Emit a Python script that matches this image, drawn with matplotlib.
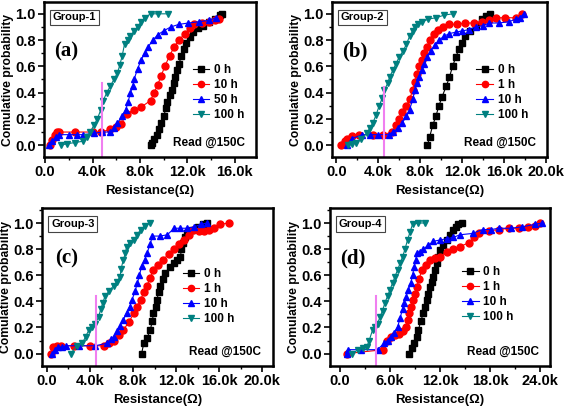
import numpy as np
import matplotlib.pyplot as plt
from matplotlib.ticker import MultipleLocator

plt.rcParams['font.family'] = ['Liberation Sans', 'DejaVu Sans']
plt.rcParams['font.weight'] = 'bold'

# ---- data (resistance in kOhm, cumulative probability) ----
# Group-1
a0_x = [8.9, 9.0, 9.2, 9.4, 9.6, 9.8, 10.0, 10.2, 10.3, 10.5, 10.7, 10.9, 11.0, 11.1, 11.3, 11.5, 11.7, 11.9, 12.2, 12.5, 12.9, 13.3, 13.8, 14.3, 14.8, 14.9]
a0_y = [0.0, 0.02, 0.05, 0.08, 0.12, 0.17, 0.22, 0.28, 0.33, 0.38, 0.42, 0.47, 0.52, 0.57, 0.62, 0.68, 0.73, 0.78, 0.82, 0.86, 0.89, 0.91, 0.94, 0.96, 0.99, 1.0]
a1_x = [0.4, 0.6, 0.8, 1.0, 1.2, 2.5, 4.0, 4.7, 5.5, 6.0, 6.4, 6.9, 7.5, 8.1, 8.9, 9.2, 9.5, 9.8, 10.1, 10.5, 10.9, 11.3, 11.8, 12.2, 12.6, 13.2, 13.8, 14.3, 14.7]
a1_y = [0.0, 0.04, 0.08, 0.1, 0.1, 0.1, 0.1, 0.1, 0.12, 0.14, 0.16, 0.24, 0.27, 0.29, 0.34, 0.40, 0.46, 0.53, 0.60, 0.68, 0.75, 0.80, 0.85, 0.89, 0.92, 0.93, 0.94, 0.95, 0.96]
a2_x = [0.3, 0.6, 0.9, 1.2, 2.0, 2.7, 3.2, 4.1, 4.8, 5.5, 5.8, 6.1, 6.5, 6.8, 7.0, 7.2, 7.4, 7.5, 7.8, 8.1, 8.4, 8.7, 9.1, 9.5, 10.0, 10.6, 11.3, 12.1, 13.0, 13.8, 14.4]
a2_y = [0.0, 0.03, 0.06, 0.08, 0.08, 0.08, 0.08, 0.09, 0.1, 0.1, 0.13, 0.17, 0.22, 0.27, 0.33, 0.40, 0.45, 0.50, 0.58, 0.65, 0.70, 0.75, 0.80, 0.84, 0.87, 0.90, 0.92, 0.93, 0.94, 0.95, 0.97]
a3_x = [1.3, 1.8, 2.5, 3.2, 3.5, 3.8, 4.1, 4.4, 4.7, 4.9, 5.2, 5.5, 5.8, 6.1, 6.3, 6.5, 6.7, 7.0, 7.2, 7.5, 7.8, 8.1, 8.4, 8.9, 9.5, 10.4]
a3_y = [0.0, 0.01, 0.02, 0.03, 0.06, 0.1, 0.15, 0.2, 0.27, 0.34, 0.40, 0.45, 0.50, 0.55, 0.61, 0.68, 0.77, 0.80, 0.83, 0.87, 0.90, 0.94, 0.97, 1.0, 1.0, 1.0]

# Group-2
b0_x = [8.7, 8.9, 9.2, 9.5, 9.8, 10.1, 10.5, 10.8, 11.1, 11.4, 11.7, 12.0, 12.3, 12.8, 13.3, 13.9, 14.3, 14.7]
b0_y = [0.0, 0.06, 0.15, 0.22, 0.30, 0.37, 0.45, 0.52, 0.60, 0.67, 0.73, 0.78, 0.83, 0.87, 0.91, 0.96, 0.98, 1.0]
b1_x = [0.5, 0.8, 1.0, 1.5, 2.2, 3.5, 4.5, 5.3, 5.7, 6.0, 6.3, 6.7, 7.0, 7.3, 7.5, 7.7, 7.9, 8.2, 8.4, 8.7, 8.9, 9.3, 9.7, 10.2, 10.8, 11.5, 12.3, 13.1, 13.9, 14.6, 15.2, 16.1, 17.1, 17.7]
b1_y = [0.0, 0.03, 0.05, 0.07, 0.08, 0.08, 0.08, 0.1, 0.15, 0.2, 0.25, 0.3, 0.35, 0.42, 0.48, 0.54, 0.6, 0.65, 0.7, 0.75, 0.8, 0.85, 0.88, 0.9, 0.92, 0.92, 0.93, 0.93, 0.94, 0.95, 0.97, 0.97, 0.97, 1.0]
b2_x = [1.0, 1.5, 2.5, 3.2, 4.0, 5.0, 5.4, 5.9, 6.3, 6.7, 7.0, 7.3, 7.5, 7.7, 7.9, 8.2, 8.4, 8.7, 9.0, 9.4, 9.8, 10.3, 10.8, 11.4, 12.0, 12.7, 13.3, 14.0, 14.6, 15.5, 16.5, 17.1, 17.5, 17.9]
b2_y = [0.0, 0.05, 0.08, 0.08, 0.08, 0.08, 0.1, 0.13, 0.17, 0.22, 0.27, 0.35, 0.42, 0.47, 0.52, 0.57, 0.62, 0.67, 0.72, 0.76, 0.8, 0.83, 0.85, 0.86, 0.87, 0.88, 0.9, 0.91, 0.93, 0.93, 0.94, 0.96, 0.97, 1.0]
b3_x = [1.1, 1.5, 1.9, 2.4, 2.9, 3.2, 3.5, 3.8, 4.1, 4.4, 4.6, 4.9, 5.1, 5.4, 5.7, 6.0, 6.4, 6.7, 7.0, 7.3, 7.5, 7.8, 8.2, 8.8, 9.5, 10.3, 11.1]
b3_y = [0.0, 0.01, 0.02, 0.05, 0.09, 0.13, 0.17, 0.23, 0.3, 0.36, 0.42, 0.47, 0.52, 0.57, 0.62, 0.67, 0.72, 0.77, 0.83, 0.87, 0.9, 0.92, 0.94, 0.96, 0.97, 0.99, 1.0]

# Group-3
c0_x = [8.8, 9.0, 9.3, 9.6, 9.8, 9.9, 10.1, 10.2, 10.4, 10.5, 10.8, 11.0, 11.4, 11.8, 12.1, 12.4, 12.5, 12.6, 12.8, 13.0, 13.5, 14.0, 14.5, 14.9]
c0_y = [0.0, 0.08, 0.12, 0.18, 0.25, 0.31, 0.36, 0.41, 0.47, 0.52, 0.57, 0.62, 0.66, 0.69, 0.72, 0.74, 0.8, 0.85, 0.89, 0.92, 0.95, 0.97, 0.99, 1.0]
c1_x = [0.4, 0.6, 0.9, 1.3, 2.5, 4.0, 5.3, 5.8, 6.2, 6.7, 7.1, 7.6, 8.1, 8.4, 8.7, 9.0, 9.3, 9.6, 9.9, 10.3, 10.8, 11.3, 11.8, 12.3, 12.7, 13.2, 13.6, 14.1, 14.6, 15.1, 15.5, 16.1, 16.9]
c1_y = [0.0, 0.05, 0.06, 0.06, 0.06, 0.06, 0.06, 0.08, 0.1, 0.14, 0.18, 0.24, 0.31, 0.36, 0.41, 0.47, 0.52, 0.58, 0.64, 0.68, 0.72, 0.76, 0.8, 0.84, 0.87, 0.91, 0.95, 0.94, 0.94, 0.95, 0.96, 0.99, 1.0]
c2_x = [0.5, 0.8, 1.0, 1.4, 1.8, 3.0, 4.5, 5.6, 6.0, 6.2, 6.5, 6.8, 7.1, 7.4, 7.7, 7.9, 8.2, 8.4, 8.6, 8.8, 9.1, 9.3, 9.6, 9.8, 10.5, 11.2, 11.8, 12.4, 13.0, 13.7, 14.3, 14.9]
c2_y = [0.0, 0.03, 0.05, 0.05, 0.06, 0.06, 0.06, 0.08, 0.11, 0.13, 0.17, 0.21, 0.26, 0.31, 0.36, 0.41, 0.48, 0.54, 0.6, 0.67, 0.72, 0.77, 0.84, 0.9, 0.9, 0.91, 0.96, 0.96, 0.96, 0.97, 0.99, 1.0]
c3_x = [2.2, 2.8, 3.3, 3.6, 3.9, 4.2, 4.5, 4.8, 5.0, 5.2, 5.4, 5.8, 6.2, 6.5, 6.8, 6.9, 7.1, 7.3, 7.4, 7.7, 8.1, 8.4, 8.7, 9.1, 9.6]
c3_y = [0.0, 0.06, 0.08, 0.13, 0.18, 0.2, 0.23, 0.28, 0.34, 0.39, 0.44, 0.48, 0.52, 0.55, 0.59, 0.65, 0.72, 0.77, 0.82, 0.85, 0.87, 0.91, 0.95, 0.98, 1.0]

# Group-4
d0_x = [8.3, 8.6, 8.9, 9.2, 9.4, 9.7, 10.0, 10.2, 10.4, 10.6, 10.8, 11.0, 11.2, 11.4, 11.6, 11.8, 12.0, 12.4, 12.8, 13.2, 13.6, 13.9, 14.2, 14.6]
d0_y = [0.0, 0.04, 0.08, 0.13, 0.18, 0.25, 0.31, 0.36, 0.41, 0.46, 0.51, 0.55, 0.59, 0.64, 0.69, 0.74, 0.79, 0.83, 0.87, 0.91, 0.95, 0.97, 0.99, 1.0]
d1_x = [0.8, 5.2, 5.6, 6.1, 6.6, 7.1, 7.5, 7.9, 8.1, 8.3, 8.5, 8.7, 9.0, 9.2, 9.5, 9.8, 10.3, 10.8, 11.4, 12.0, 12.8, 13.6, 14.4, 15.5, 16.1, 16.7, 17.9, 19.1, 20.3, 21.5, 22.6, 23.4, 24.0]
d1_y = [0.0, 0.03, 0.1, 0.13, 0.14, 0.15, 0.17, 0.2, 0.26, 0.31, 0.36, 0.41, 0.46, 0.51, 0.57, 0.64, 0.68, 0.72, 0.73, 0.74, 0.78, 0.8, 0.82, 0.85, 0.89, 0.92, 0.94, 0.95, 0.96, 0.96, 0.97, 0.98, 1.0]
d2_x = [0.8, 0.9, 2.5, 4.5, 5.3, 5.7, 6.1, 6.5, 6.9, 7.2, 7.5, 7.7, 7.9, 8.2, 8.5, 8.7, 8.9, 9.1, 9.2, 9.6, 10.0, 10.6, 11.2, 12.0, 12.8, 13.6, 14.4, 15.9, 17.1, 18.1, 19.1, 20.5, 21.8, 23.4, 24.2]
d2_y = [0.0, 0.03, 0.03, 0.03, 0.08, 0.1, 0.13, 0.16, 0.2, 0.27, 0.34, 0.39, 0.43, 0.49, 0.54, 0.6, 0.66, 0.72, 0.77, 0.78, 0.8, 0.83, 0.86, 0.87, 0.88, 0.89, 0.91, 0.92, 0.95, 0.95, 0.96, 0.96, 0.97, 0.99, 1.0]
d3_x = [1.4, 2.2, 2.8, 3.2, 3.5, 3.9, 4.2, 4.5, 4.8, 5.1, 5.4, 5.7, 6.0, 6.3, 6.6, 6.9, 7.2, 7.5, 7.8, 8.1, 8.4, 8.7, 9.4, 10.2]
d3_y = [0.0, 0.03, 0.04, 0.05, 0.1, 0.18, 0.2, 0.23, 0.28, 0.33, 0.39, 0.44, 0.49, 0.54, 0.59, 0.64, 0.69, 0.74, 0.8, 0.87, 0.93, 0.99, 1.0, 1.0]

labels_a = ['0 h', '10 h', '50 h', '100 h']
labels_b = ['0 h', '1 h', '10 h', '100 h']

colors = ['black', 'red', 'blue', '#008080']
markers = ['s', 'o', '^', 'v']

W, H = 567, 407

# panel: pixel box (l, t, r, b), xlim, ylim, xticks, data, labels, tag, group, pink line x, pink top, legend anchor
panels = [
    ((44, 2, 256, 157), (-0.1, 17.8), (-0.09, 1.09), [0, 4, 8, 12, 16],
     [(a0_x, a0_y), (a1_x, a1_y), (a2_x, a2_y), (a3_x, a3_y)], labels_a, '(a)', 'Group-1', 4.8, 0.47, (0.69, 0.615)),
    ((332, 2, 547, 157), (-0.4, 20.1), (-0.09, 1.09), [0, 4, 8, 12, 16, 20],
     [(b0_x, b0_y), (b1_x, b1_y), (b2_x, b2_y), (b3_x, b3_y)], labels_b, '(b)', 'Group-2', 4.6, 0.44, (0.66, 0.615)),
    ((42, 208, 273, 366), (-0.45, 21.0), (-0.095, 1.115), [0, 4, 8, 12, 16, 20],
     [(c0_x, c0_y), (c1_x, c1_y), (c2_x, c2_y), (c3_x, c3_y)], labels_b, '(c)', 'Group-3', 4.6, 0.44, (0.60, 0.635)),
    ((330, 208, 550, 366), (-1.2, 25.2), (-0.095, 1.115), [0, 6, 12, 18, 24],
     [(d0_x, d0_y), (d1_x, d1_y), (d2_x, d2_y), (d3_x, d3_y)], labels_b, '(d)', 'Group-4', 4.3, 0.44, (0.59, 0.645)),
]

fig = plt.figure(figsize=(W / 100, H / 100), dpi=100)

for box, xl, yl, xt, data, labs, tag, grp, px, ptop, lpos in panels:
    l, t, r, b = box
    ax = fig.add_axes([l / W, 1 - b / H, (r - l) / W, (b - t) / H])
    for (x, y), c, m, lab in zip(data, colors, markers, labs):
        ax.plot(x, y, color=c, marker=m, markersize=5, lw=0.8, label=lab)
    ax.plot([px, px], [yl[0], ptop], color='#f07ff0', lw=1.5)
    ax.set_xlim(*xl)
    ax.set_ylim(*yl)
    ax.set_xticks(xt)
    ax.set_xticklabels(['0.0'] + ['%.1fk' % v for v in xt[1:]])
    ax.xaxis.set_minor_locator(MultipleLocator((xt[1] - xt[0]) / 2))
    ax.set_yticks([0, 0.2, 0.4, 0.6, 0.8, 1.0])
    ax.set_yticklabels(['0.0', '0.2', '0.4', '0.6', '0.8', '1.0'])
    ax.yaxis.set_minor_locator(MultipleLocator(0.1))
    ax.tick_params(which='major', direction='out', length=4, width=1.2, labelsize=10.5, pad=2)
    ax.tick_params(which='minor', direction='out', length=2, width=1)
    for s in ax.spines.values():
        s.set_linewidth(1.8)
    for lb in ax.get_xticklabels() + ax.get_yticklabels():
        lb.set_fontweight('bold')
    ax.set_xlabel('Resistance(Ω)', fontsize=9.5, fontweight='bold', labelpad=4)
    ax.set_ylabel('Comulative probability', fontsize=8.7, fontweight='bold', labelpad=0.5)
    ax.text(0.04, 0.90, grp, transform=ax.transAxes, fontsize=8, fontweight='bold',
            va='center', ha='left',
            bbox=dict(boxstyle='square,pad=0.25', fc='white', ec='#444444', lw=0.8))
    ax.text(0.105, 0.68, tag, transform=ax.transAxes, fontsize=15, fontweight='bold',
            family='Liberation Serif', va='center', ha='center')
    ax.text(0.95, 0.09, 'Read @150C', transform=ax.transAxes, fontsize=8.5,
            fontweight='bold', va='center', ha='right')
    ax.legend(loc='upper left', bbox_to_anchor=lpos, frameon=False,
              handlelength=1.4, handletextpad=0.4, labelspacing=0.25,
              borderaxespad=0, borderpad=0.2, markerscale=0.9,
              prop={'weight': 'bold', 'size': 8.5})

fig.savefig('out.png', dpi=100)
